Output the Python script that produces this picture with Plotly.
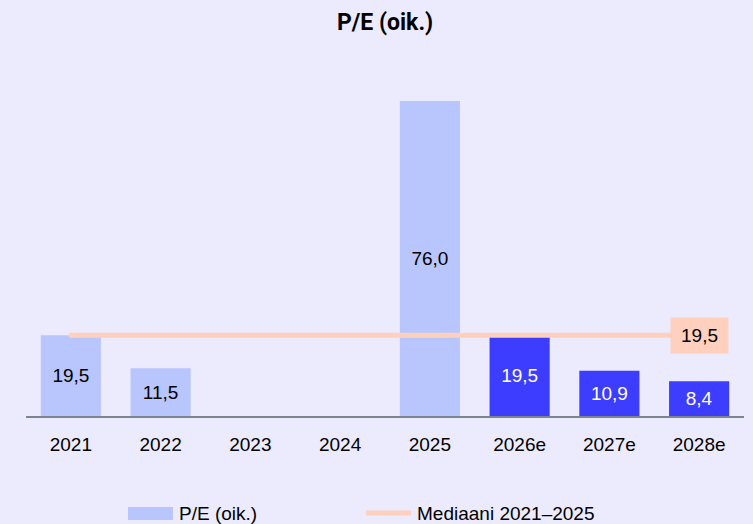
import plotly.graph_objects as go

categories = ["2021", "2022", "2023", "2024", "2025", "2026e", "2027e", "2028e"]
pe_values = [19.5, 11.5, None, None, 76.0, 19.5, 10.9, 8.4]
is_estimate = [False, False, False, False, False, True, True, True]
median_value = 19.5
median_label = "Mediaani 2021–2025"
bar_label = "P/E (oik.)"
title_text = "P/E (oik.)"

BG = "#ecebfd"
LIGHT = "#b9c5fd"
DARK = "#3d3dff"
PEACH = "#ffd0bd"
AXIS = "#7b858c"
FONT = "Liberation Sans, Arial, sans-serif"

W, H = 753, 524
ML, MR, MT, MB = 26, 9, 70, 108
plot_h = H - MT - MB


def py(pix):
    return (H - MB - pix) / plot_h


def px(pix):
    return (pix - ML) / (W - ML - MR)


bar_colors = [DARK if e else LIGHT for e in is_estimate]
text_colors = ["white" if e else "black" for e in is_estimate]
texts = [("" if v is None else f"{v:.1f}".replace(".", ",")) for v in pe_values]

fig = go.Figure()
fig.add_trace(go.Bar(
    x=categories, y=pe_values, marker=dict(color=bar_colors, line=dict(width=0)),
    width=0.67, text=texts, textposition="inside", insidetextanchor="middle",
    textfont=dict(size=19, color=text_colors, family=FONT),
    constraintext="none", showlegend=False, hoverinfo="skip",
))
fig.add_trace(go.Scatter(
    x=categories, y=[median_value] * len(categories), mode="lines",
    line=dict(color=PEACH, width=5), showlegend=False, hoverinfo="skip",
))

ymax = plot_h / (315 / 76.0)

annotations = [
    dict(x=categories[-1], y=median_value, xref="x", yref="y",
         text=f"{median_value:.1f}".replace(".", ","), showarrow=False,
         bgcolor=PEACH, width=57, height=35, borderpad=0,
         font=dict(size=19, color="black", family=FONT)),
    dict(x=0.5, y=py(22), xref="paper", yref="paper", text=f"<b>{title_text}</b>",
         showarrow=False, font=dict(size=23, color="black",
                                    family="Roboto, Arial, sans-serif"),
         xanchor="center", yanchor="middle"),
    dict(x=px(177), y=py(513), xref="paper", yref="paper", text=bar_label,
         showarrow=False, xanchor="left", yanchor="middle",
         font=dict(size=19, color="black", family=FONT)),
    dict(x=px(415), y=py(513), xref="paper", yref="paper", text=median_label,
         showarrow=False, xanchor="left", yanchor="middle",
         font=dict(size=19, color="black", family=FONT)),
]

shapes = [
    dict(type="rect", xref="paper", yref="paper", x0=px(128), x1=px(173),
         y0=py(520), y1=py(507), fillcolor=LIGHT, line=dict(width=0)),
    dict(type="line", xref="paper", yref="paper", x0=px(366), x1=px(411),
         y0=py(513), y1=py(513), line=dict(color=PEACH, width=5)),
]

fig.update_layout(
    width=W, height=H, margin=dict(l=ML, r=MR, t=MT, b=MB),
    paper_bgcolor=BG, plot_bgcolor=BG, separators=", ",
    font=dict(family=FONT, size=19, color="black"),
    xaxis=dict(type="category", range=[-0.5, 7.5], showline=True, linecolor=AXIS,
               linewidth=2, ticks="", showgrid=False, zeroline=False,
               tickfont=dict(size=19, color="black", family=FONT), ticklabelstandoff=10),
    yaxis=dict(range=[0, ymax], visible=False, showgrid=False, zeroline=False),
    annotations=annotations, shapes=shapes, showlegend=False,
)

fig.write_html("out.html", config={"displayModeBar": False},
               post_script="document.body.style.margin='0';document.body.style.overflow='hidden';"
                           "document.querySelectorAll('.scatterlayer path.js-line').forEach(p=>p.style.strokeLinecap='round');")
